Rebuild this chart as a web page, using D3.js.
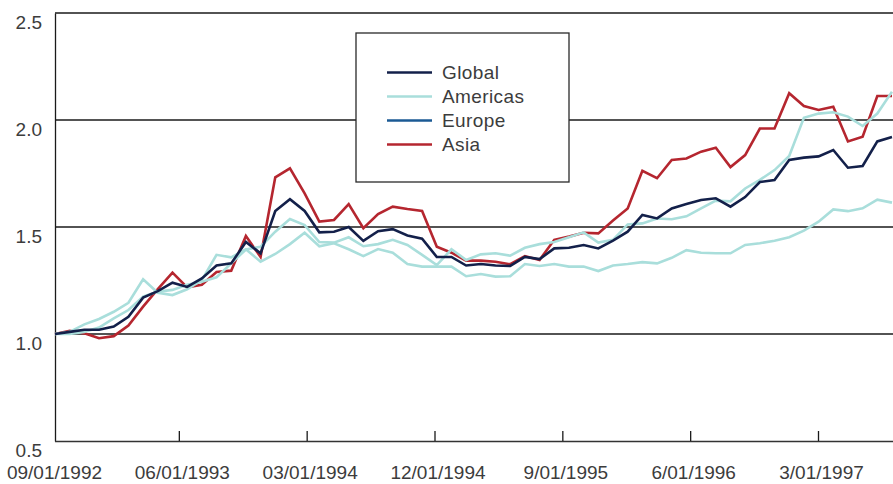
<!DOCTYPE html>
<html>
<head>
    <title>Regional indices</title>
    <script src="https://d3js.org/d3.v7.min.js"></script>
    <style>
        * { margin: 0; padding: 0; }
        body { background: #fff; }
        #chart svg { display: block; }
    </style>
</head>
<body>
<div id="chart"></div>
<script>
    // monthly values, index 0 = 09/1992
    const tickLabels = ["09/01/1992", "06/01/1993", "03/01/1994", "12/01/1994", "9/01/1995", "6/01/1996", "3/01/1997"];
    const yTicks = [0.5, 1.0, 1.5, 2.0, 2.5];

    const globalVals = [1.0, 1.01, 1.02, 1.02, 1.035, 1.08, 1.17, 1.20, 1.24, 1.22,
        1.26, 1.32, 1.33, 1.43, 1.377, 1.575, 1.63, 1.575, 1.475, 1.478,
        1.50, 1.435, 1.48, 1.49, 1.46, 1.445, 1.36, 1.36, 1.32, 1.327,
        1.32, 1.318, 1.36, 1.35, 1.40, 1.403, 1.416, 1.40, 1.436, 1.478,
        1.556, 1.54, 1.587, 1.607, 1.626, 1.634, 1.595, 1.64, 1.71, 1.72,
        1.813, 1.824, 1.83, 1.86, 1.777, 1.785, 1.90, 1.92];

    const americasVals = [1.0, 1.0, 1.01, 1.03, 1.073, 1.112, 1.175, 1.198, 1.206, 1.23,
        1.244, 1.265, 1.33, 1.395, 1.408, 1.478, 1.537, 1.509, 1.43, 1.427,
        1.452, 1.41, 1.42, 1.44, 1.416, 1.37, 1.322, 1.396, 1.346, 1.372,
        1.377, 1.366, 1.403, 1.42, 1.43, 1.452, 1.475, 1.427, 1.44, 1.512,
        1.517, 1.54, 1.536, 1.55, 1.587, 1.623, 1.62, 1.68, 1.72, 1.766,
        1.832, 2.01, 2.03, 2.036, 2.016, 1.972, 2.03, 2.132];

    const europeVals = [1.0, 1.01, 1.045, 1.07, 1.104, 1.146, 1.256, 1.193, 1.182, 1.209,
        1.252, 1.37, 1.358, 1.396, 1.338, 1.374, 1.42, 1.473, 1.41, 1.424,
        1.396, 1.364, 1.397, 1.38, 1.327, 1.315, 1.315, 1.315, 1.27, 1.28,
        1.268, 1.27, 1.327, 1.318, 1.327, 1.315, 1.315, 1.294, 1.32, 1.327,
        1.336, 1.33, 1.356, 1.392, 1.38, 1.377, 1.377, 1.416, 1.424, 1.436,
        1.452, 1.483, 1.525, 1.582, 1.574, 1.587, 1.628, 1.614];

    const asiaVals = [1.0, 1.015, 1.003, 0.98, 0.99, 1.04, 1.128, 1.21, 1.287, 1.218,
        1.23, 1.29, 1.296, 1.458, 1.36, 1.732, 1.774, 1.657, 1.525, 1.533,
        1.607, 1.494, 1.56, 1.595, 1.584, 1.575, 1.408, 1.38, 1.343, 1.343,
        1.338, 1.326, 1.364, 1.346, 1.44, 1.455, 1.473, 1.47, 1.53, 1.587,
        1.763, 1.728, 1.813, 1.82, 1.852, 1.87, 1.78, 1.836, 1.96, 1.96,
        2.125, 2.065, 2.047, 2.062, 1.90, 1.922, 2.112, 2.112];

    const seriesNames = ["Global", "Americas", "Europe", "Asia"];
    const seriesValues = [globalVals, americasVals, europeVals, asiaVals];
    const legendColors = ["#13204a", "#a9dedb", "#1b5a94", "#b5262f"];
    // in the plot the Europe line is drawn in the light colour too
    const lineColors = ["#13204a", "#a9dedb", "#a9dedb", "#b5262f"];
    const drawOrder = [3, 2, 1, 0];

    const width = 893, height = 484;
    const m = {left: 55, right: 893, top: 13, bottom: 441};
    const font = "'Liberation Sans', Arial, sans-serif";

    const svg = d3.select("#chart").append("svg")
        .attr("width", width)
        .attr("height", height)
        .style("font-family", font);

    const x = d3.scaleLinear().domain([0, globalVals.length - 1]).range([m.left, 892]);
    const xTick = d3.scalePoint().domain(tickLabels).range([51, 818]);
    const y = d3.scaleLinear().domain([0.5, 2.5]).range([m.bottom, m.top]);

    // horizontal grid
    svg.append("g")
        .selectAll("line")
        .data(yTicks.filter(d => d > 0.5))
        .join("line")
        .attr("x1", m.left).attr("x2", m.right)
        .attr("y1", d => y(d)).attr("y2", d => y(d))
        .attr("stroke", "#1a1a1a")
        .attr("stroke-width", 1.3);

    // y axis
    const yAxis = svg.append("g")
        .attr("transform", `translate(${m.left},0)`)
        .call(d3.axisLeft(y).tickValues(yTicks).tickSize(0).tickPadding(13).tickFormat(d3.format(".1f")));
    yAxis.select(".domain").attr("stroke", "#1a1a1a").attr("stroke-width", 1.3);
    yAxis.selectAll("text")
        .attr("dy", "0.71em")
        .attr("y", 2)
        .attr("fill", "#3c3c3c")
        .style("font-size", "19px")
        .style("font-family", font);

    // x axis
    const xAxis = svg.append("g")
        .attr("transform", `translate(0,${m.bottom})`)
        .call(d3.axisBottom(xTick).tickSize(-10).tickSizeOuter(0).tickPadding(25));
    xAxis.select(".domain").attr("d", `M${m.left},0.5H${m.right}`).attr("stroke", "#333").attr("stroke-width", 1.5);
    xAxis.selectAll(".tick line").attr("stroke", "#1a1a1a").attr("stroke-width", 1.3)
        .attr("display", (d, i) => i === 0 ? "none" : null);
    xAxis.selectAll("text")
        .attr("dx", 3)
        .attr("fill", "#3c3c3c")
        .style("font-size", "19px")
        .style("font-family", font);

    // lines
    const line = d3.line()
        .x((d, i) => x(i))
        .y(d => y(d));

    svg.append("g")
        .selectAll("path")
        .data(drawOrder)
        .join("path")
        .attr("d", k => line(seriesValues[k]))
        .attr("fill", "none")
        .attr("stroke", k => lineColors[k])
        .attr("stroke-width", 2.6)
        .attr("stroke-linejoin", "miter");

    // legend
    const legend = svg.append("g").attr("transform", "translate(356,33)");
    legend.append("rect")
        .attr("width", 213).attr("height", 149)
        .attr("fill", "#fff")
        .attr("stroke", "#2a2a2a")
        .attr("stroke-width", 1.3);

    const item = legend.selectAll("g.item")
        .data(seriesNames)
        .join("g")
        .attr("class", "item")
        .attr("transform", (d, i) => `translate(0,${39.5 + i * 24})`);
    item.append("line")
        .attr("x1", 31).attr("x2", 76)
        .attr("stroke", (d, i) => legendColors[i])
        .attr("stroke-width", 2.6);
    item.append("text")
        .attr("x", 86)
        .attr("dy", "0.36em")
        .attr("fill", "#3c3c3c")
        .style("font-size", "19px")
        .style("letter-spacing", "0.4px")
        .text(d => d);
</script>
</body>
</html>
